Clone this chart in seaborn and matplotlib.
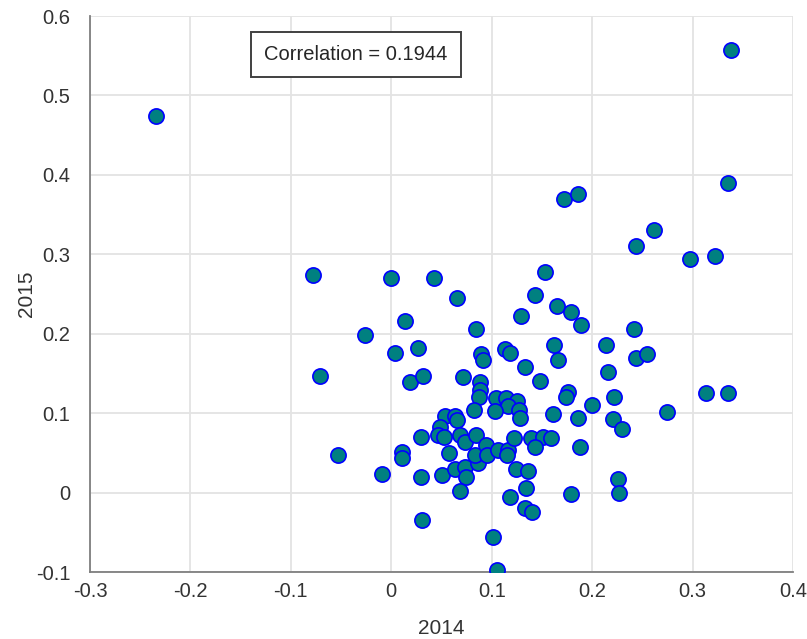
import matplotlib
matplotlib.use("Agg")
import matplotlib.pyplot as plt
import seaborn as sns
import pandas as pd

# Yearly returns of the same assets in two consecutive years
ret_2014 = [
    -0.234, 0.338, 0.335, -0.078, -0.071, -0.053, -0.026, -0.009, 0.000, 0.004,
    0.014, 0.027, 0.019, 0.032, 0.011, 0.011, 0.030, 0.030, 0.031, 0.043,
    0.065, 0.084, 0.089, 0.091, 0.071, 0.088, 0.088, 0.087, 0.082, 0.053,
    0.063, 0.065, 0.049, 0.047, 0.052, 0.068, 0.073, 0.084, 0.057, 0.050,
    0.063, 0.073, 0.074, 0.086, 0.068, 0.083, 0.094, 0.095, 0.106, 0.116,
    0.115, 0.101, 0.105, 0.104, 0.114, 0.125, 0.116, 0.127, 0.128, 0.103,
    0.113, 0.118, 0.122, 0.118, 0.124, 0.136, 0.134, 0.133, 0.140, 0.139,
    0.151, 0.159, 0.143, 0.129, 0.143, 0.153, 0.133, 0.148, 0.162, 0.166,
    0.165, 0.179, 0.189, 0.172, 0.186, 0.161, 0.176, 0.174, 0.186, 0.188,
    0.179, 0.200, 0.214, 0.216, 0.222, 0.221, 0.230, 0.226, 0.227, 0.242,
    0.244, 0.255, 0.244, 0.262, 0.275, 0.297, 0.322, 0.313, 0.335,
]
ret_2015 = [
    0.474, 0.557, 0.390, 0.274, 0.147, 0.047, 0.198, 0.023, 0.270, 0.176,
    0.216, 0.182, 0.139, 0.147, 0.051, 0.043, 0.070, 0.020, -0.035, 0.270,
    0.245, 0.206, 0.174, 0.167, 0.145, 0.139, 0.129, 0.120, 0.104, 0.096,
    0.096, 0.091, 0.082, 0.072, 0.070, 0.072, 0.064, 0.072, 0.050, 0.022,
    0.030, 0.032, 0.020, 0.037, 0.002, 0.047, 0.060, 0.047, 0.054, 0.054,
    0.047, -0.056, -0.098, 0.119, 0.119, 0.115, 0.109, 0.104, 0.094, 0.103,
    0.181, 0.176, 0.069, -0.006, 0.030, 0.027, 0.006, -0.020, -0.025, 0.069,
    0.070, 0.069, 0.057, 0.222, 0.249, 0.278, 0.158, 0.140, 0.186, 0.167,
    0.235, 0.227, 0.211, 0.370, 0.376, 0.099, 0.127, 0.120, 0.094, 0.057,
    -0.002, 0.110, 0.186, 0.152, 0.120, 0.093, 0.080, 0.017, -0.001, 0.206,
    0.169, 0.174, 0.310, 0.331, 0.101, 0.294, 0.298, 0.125, 0.125,
]
x_ticks = [-0.3, -0.2, -0.1, 0, 0.1, 0.2, 0.3, 0.4]
x_tick_labels = ["-0.3", "-0.2", "-0.1", "0", "0.1", "0.2", "0.3", "0.4"]
y_ticks = [-0.1, 0, 0.1, 0.2, 0.3, 0.4, 0.5, 0.6]
y_tick_labels = ["-0.1", "0", "0.1", "0.2", "0.3", "0.4", "0.5", "0.6"]
corr_text = "Correlation = 0.1944"

df = pd.DataFrame({"2014": ret_2014, "2015": ret_2015})

sns.set_style("white")
plt.rcParams["font.family"] = ["Liberation Sans", "DejaVu Sans"]

fig = plt.figure(figsize=(8.07, 6.39), dpi=100)
ax = fig.add_axes([90 / 807, 1 - 572 / 639, 703 / 807, 556 / 639])

sns.scatterplot(data=df, x="2014", y="2015", ax=ax, s=120,
                color="#008080", edgecolor="#0000ff", linewidth=1.2, zorder=3)

ax.set_xlim(-0.3, 0.4)
ax.set_ylim(-0.1, 0.6)
ax.set_xticks(x_ticks)
ax.set_xticklabels(x_tick_labels)
ax.set_yticks(y_ticks)
ax.set_yticklabels(y_tick_labels)

ax.grid(True, color="#e3e3e3", linewidth=1.3, zorder=0)
ax.set_axisbelow(True)
for side in ["top", "right"]:
    ax.spines[side].set_visible(False)
for side in ["left", "bottom"]:
    ax.spines[side].set_color("#7f7f7f")
    ax.spines[side].set_linewidth(1.3)

ax.tick_params(axis="both", direction="in", length=5, width=1.0,
               color="#7f7f7f", labelsize=14.5, labelcolor="#333333")
ax.tick_params(axis="x", pad=7)
ax.tick_params(axis="y", pad=14)
ax.set_xlabel("2014", fontsize=15, color="#333333", labelpad=13)
ax.set_ylabel("2015", fontsize=15, color="#333333", labelpad=0)

ax.text(0.378, 0.931, corr_text, transform=ax.transAxes, ha="center", va="center",
        fontsize=14.5, color="#262626",
        bbox=dict(boxstyle="square,pad=0.65", facecolor="white",
                  edgecolor="#404040", linewidth=1.4))

fig.savefig("out.png", dpi=100, facecolor="white")
